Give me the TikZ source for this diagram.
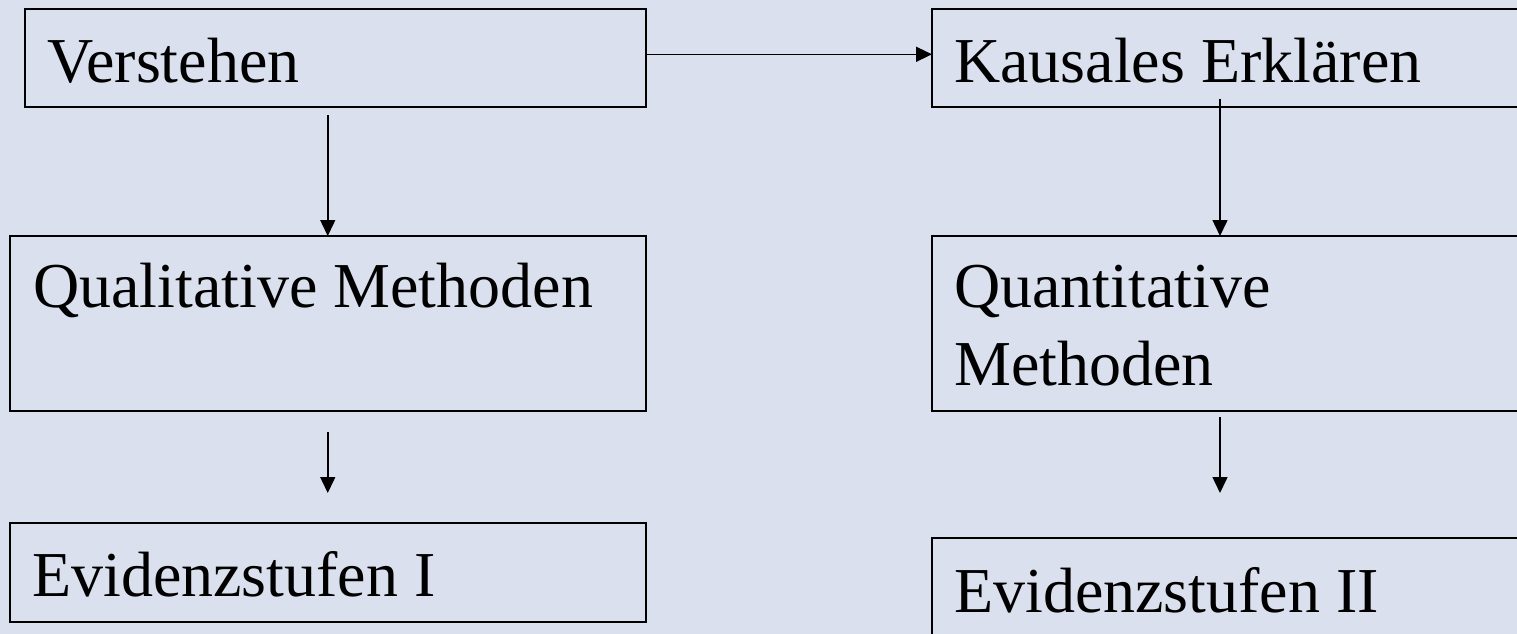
\documentclass[tikz,border=0pt]{standalone}
\usepackage{fontspec}
\setmainfont{Liberation Serif}
\usetikzlibrary{arrows.meta}
\definecolor{bg}{RGB}{218,224,237}
\tikzset{
  box/.style={draw=black, line width=2pt, anchor=north west, inner sep=0pt, outer sep=0pt},
  lbl/.style={anchor=base west, inner sep=0pt, font=\fontsize{64}{78}\selectfont},
  arr/.style={line width=1.5pt, -{Triangle[length=16pt,width=15pt]}}
}
\begin{document}
\begin{tikzpicture}[x=1pt,y=-1pt]
\clip (0,0) rectangle (1517,634);
\fill[bg] (0,0) rectangle (1517,634);
% boxes
\node[box, minimum width=621pt, minimum height=98pt] (verst) at (24.5,9.3) {};
\node[box, minimum width=635.5pt, minimum height=175pt] (qual) at (10,236) {};
\node[box, minimum width=635.5pt, minimum height=99pt] (evi1) at (10,523) {};
\node[box, minimum width=610pt, minimum height=98pt] (kaus) at (932,9.3) {};
\node[box, minimum width=610pt, minimum height=175pt] (quant) at (932,236) {};
\node[box, minimum width=610pt, minimum height=120pt] (evi2) at (932,538) {};
% labels
\node[lbl] (tverst) at (47,82) {Verstehen};
\node[lbl] (tqual) at (33,307) {Qualitative Methoden};
\node[lbl] (tevi1) at (32,596) {Evidenzstufen I};
\node[lbl] (tkaus) at (954,82) {Kausales Erklären};
\node[lbl] (tquant1) at (954,307) {Quantitative};
\node[lbl] (tquant2) at (954,385) {Methoden};
\node[lbl] (tevi2) at (954,612) {Evidenzstufen II};
% connectors
\coordinate (k1) at (1220,99);
\coordinate (k2) at (1220,236);
\coordinate (q1) at (1220,417);
\coordinate (q2) at (1220,493);
\draw[arr] ([yshift=4pt]verst.east) -- ([yshift=4pt]kaus.west);
\draw[arr, shorten <=8pt] (qual.north |- verst.south) -- (qual.north);
\draw[arr, shorten <=21pt, shorten >=30pt] (qual.south) -- (evi1.north);
\draw[arr] (k1) -- (k2);
\draw[arr] (q1) -- (q2);
\end{tikzpicture}
\end{document}
